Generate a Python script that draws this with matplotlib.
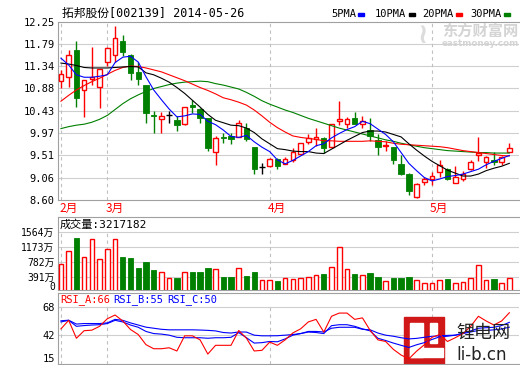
import numpy as np
import matplotlib
matplotlib.use('Agg')
import matplotlib.pyplot as plt
import matplotlib.transforms as mtrans
from matplotlib.patches import Rectangle

# daily bars, 2014-02 .. 2014-05-26
opens = [11.04, 11.11, 11.67, 10.85, 11.08, 10.91, 11.42, 11.57, 11.85, 11.57,
         11.21, 10.95, 10.33, 10.25, 10.34, 10.24, 10.15, 10.55, 10.46, 10.27,
         9.58, 9.88, 9.90, 9.89, 10.07, 9.68, 9.27, 9.29, 9.44, 9.34,
         9.41, 9.54, 9.78, 9.85, 9.87, 9.68, 10.22, 10.15, 10.27, 10.15,
         10.04, 9.83, 9.71, 9.68, 9.34, 9.14, 8.67, 8.97, 9.02, 9.17,
         9.24, 8.95, 9.03, 9.24, 9.51, 9.37, 9.42, 9.38, 9.59]
closes = [11.17, 11.56, 10.68, 11.05, 11.11, 11.27, 11.70, 11.91, 11.63, 11.19,
          11.07, 10.37, 10.31, 10.32, 10.34, 10.14, 10.50, 10.50, 10.27, 9.66,
          9.87, 9.86, 9.85, 10.17, 9.85, 9.24, 9.27, 9.44, 9.29, 9.44,
          9.59, 9.76, 9.87, 9.88, 9.67, 10.15, 10.25, 10.26, 10.16, 10.22,
          9.90, 9.69, 9.72, 9.42, 9.14, 8.78, 8.93, 9.02, 9.10, 9.31,
          9.02, 9.07, 9.14, 9.37, 9.56, 9.48, 9.38, 9.47, 9.66]
highs = [11.26, 11.67, 11.85, 11.06, 11.72, 11.28, 11.72, 12.16, 11.98, 11.58,
         11.42, 10.96, 10.41, 10.40, 10.41, 10.31, 10.51, 10.65, 10.48, 10.28,
         9.90, 9.97, 9.97, 10.24, 10.17, 9.69, 9.36, 9.45, 9.45, 9.48,
         9.66, 9.77, 9.95, 10.07, 9.88, 10.16, 10.63, 10.29, 10.40, 10.31,
         10.27, 9.95, 9.80, 9.69, 9.53, 9.15, 8.95, 9.08, 9.18, 9.42,
         9.25, 9.29, 9.19, 9.41, 9.89, 9.50, 9.58, 9.49, 9.76]
lows = [10.90, 10.92, 10.51, 10.29, 10.95, 10.48, 11.34, 11.42, 11.55, 11.06,
        10.95, 10.18, 9.98, 9.98, 10.18, 10.02, 10.14, 10.38, 10.17, 9.61,
        9.32, 9.76, 9.74, 9.88, 9.81, 9.13, 9.13, 9.28, 9.24, 9.33,
        9.37, 9.53, 9.75, 9.71, 9.57, 9.67, 10.14, 10.07, 10.15, 10.07,
        9.80, 9.53, 9.61, 9.34, 9.12, 8.71, 8.64, 8.90, 8.91, 9.08,
        9.00, 8.94, 8.98, 9.22, 9.39, 9.25, 9.32, 9.32, 9.58]

ma5 = [11.50, 11.36, 11.16, 11.11, 11.11, 11.13, 11.16, 11.41, 11.52, 11.54,
       11.42, 11.12, 10.85, 10.65, 10.46, 10.30, 10.32, 10.36, 10.35, 10.21,
       10.14, 10.03, 9.90, 9.88, 9.92, 9.79, 9.68, 9.59, 9.42, 9.34,
       9.41, 9.50, 9.59, 9.71, 9.75, 9.87, 9.96, 10.04, 10.10, 10.21,
       10.16, 10.05, 9.94, 9.79, 9.57, 9.35, 9.20, 9.06, 8.99, 9.03,
       9.08, 9.10, 9.13, 9.18, 9.23, 9.32, 9.39, 9.45, 9.51]
ma10 = [11.40, 11.38, 11.35, 11.31, 11.30, 11.30, 11.30, 11.31, 11.32, 11.33,
        11.32, 11.20, 11.16, 11.09, 11.01, 10.90, 10.78, 10.64, 10.50, 10.35,
        10.23, 10.18, 10.13, 10.12, 10.07, 9.98, 9.85, 9.75, 9.65, 9.63,
        9.60, 9.59, 9.59, 9.56, 9.55, 9.64, 9.73, 9.82, 9.90, 9.98,
        10.01, 10.01, 9.99, 9.94, 9.89, 9.75, 9.62, 9.50, 9.39, 9.30,
        9.21, 9.15, 9.09, 9.09, 9.13, 9.20, 9.25, 9.29, 9.35]
ma20 = [10.62, 10.74, 10.85, 10.94, 11.02, 11.09, 11.17, 11.25, 11.31, 11.34,
        11.33, 11.30, 11.26, 11.22, 11.16, 11.10, 11.04, 10.97, 10.90, 10.84,
        10.77, 10.69, 10.65, 10.60, 10.54, 10.44, 10.32, 10.19, 10.08, 9.99,
        9.91, 9.88, 9.86, 9.84, 9.81, 9.81, 9.80, 9.80, 9.80, 9.80,
        9.81, 9.80, 9.79, 9.76, 9.74, 9.73, 9.72, 9.71, 9.70, 9.69,
        9.67, 9.64, 9.61, 9.59, 9.57, 9.55, 9.53, 9.51, 9.50]
ma30 = [10.06, 10.10, 10.13, 10.15, 10.19, 10.25, 10.33, 10.45, 10.57, 10.67,
        10.75, 10.82, 10.88, 10.92, 10.96, 10.99, 11.01, 11.02, 11.03, 11.02,
        10.98, 10.95, 10.91, 10.87, 10.80, 10.72, 10.63, 10.56, 10.50, 10.44,
        10.39, 10.33, 10.27, 10.22, 10.17, 10.12, 10.07, 10.03, 9.99, 9.95,
        9.91, 9.87, 9.83, 9.80, 9.76, 9.73, 9.70, 9.67, 9.65, 9.63,
        9.61, 9.60, 9.59, 9.58, 9.57, 9.57, 9.56, 9.56, 9.56]

# volume in 万
vols = [714, 1061, 1408, 905, 1374, 852, 1113, 1374, 905, 887,
        626, 766, 566, 505, 365, 365, 505, 505, 505, 626,
        592, 391, 391, 609, 417, 505, 297, 297, 271, 349,
        323, 349, 375, 435, 461, 644, 1157, 583, 461, 427,
        487, 383, 271, 357, 357, 383, 297, 219, 219, 297,
        331, 219, 245, 357, 688, 297, 331, 219, 357]

rsi_a = [47.9, 55.9, 39.1, 46.2, 46.7, 50.3, 57.4, 60.9, 55.3, 47.3,
         42.6, 33.1, 29.3, 29.3, 30.2, 27.2, 41.4, 41.4, 37.6, 24.3,
         32.5, 32.5, 32.5, 46.4, 39.1, 27.2, 27.8, 35.5, 32.5, 37.6,
         44.1, 47.9, 54.4, 56.8, 44.9, 59.7, 62.7, 62.7, 56.8, 58.2,
         46.4, 37.6, 36.1, 28.7, 23.4, 19.8, 27.0, 33.0, 40.0, 42.6,
         36.1, 39.6, 43.5, 50.3, 59.7, 55.3, 51.5, 55.3, 63.0]
rsi_b = [54.4, 55.9, 50.3, 51.0, 51.5, 51.8, 52.9, 55.9, 54.4, 51.5,
         49.4, 45.5, 43.5, 43.0, 42.0, 40.0, 39.6, 39.6, 39.6, 39.1,
         39.6, 39.6, 40.0, 44.4, 39.6, 34.6, 35.0, 36.1, 35.8, 38.5,
         42.0, 43.5, 44.9, 44.5, 43.5, 50.9, 51.8, 51.8, 50.3, 47.9,
         46.0, 39.1, 37.0, 34.6, 32.5, 30.5, 33.0, 35.0, 38.0, 40.5,
         41.0, 42.0, 44.0, 46.0, 48.5, 49.0, 49.4, 51.0, 54.0]
rsi_c = [55.5, 56.0, 52.4, 52.9, 52.9, 52.9, 53.5, 56.8, 55.9, 53.5,
         51.5, 49.5, 48.5, 47.5, 47.0, 47.0, 47.0, 47.0, 46.8, 46.5,
         46.0, 44.5, 44.0, 45.0, 44.9, 42.0, 41.4, 41.4, 41.5, 42.0,
         42.6, 43.5, 45.5, 45.5, 45.0, 48.5, 49.4, 49.4, 49.4, 47.5,
         47.0, 44.0, 42.0, 41.0, 39.6, 38.5, 39.0, 40.0, 41.0, 41.4,
         41.8, 42.0, 43.5, 45.0, 46.4, 46.4, 47.0, 47.8, 49.5]

price_labels = ['8.60', '9.06', '9.51', '9.97', '10.43', '10.88', '11.34', '11.79', '12.25']
vol_labels = ['391万', '782万', '1173万', '1564万']
rsi_labels = ['42', '68']
month_labels = ['2月', '3月', '4月', '5月']
month_start = [0, 6, 27, 48]

W, H = 520., 365.
def fx(px): return px / W
def fy(py): return 1 - py / H

mono = ['DejaVu Sans Mono', 'Noto Sans CJK SC']
cjk = ['Noto Sans CJK SC', 'DejaVu Sans']
red, green, blue = '#ff0000', '#008000', '#0000ff'
grid_c, border_c, dash_c = '#cfcfcf', '#a0a0a0', '#c0c0c0'

fig = plt.figure(figsize=(5.2, 3.65), dpi=100)
fig.patch.set_facecolor('white')
x = np.arange(len(closes))
o, c, h, l = map(np.array, (opens, closes, highs, lows))
xl = (-0.38, 59.25)

def style(ax):
    ax.set_xlim(*xl)
    ax.set_xticks([])
    ax.spines['right'].set_visible(False)
    for s in ['left', 'top', 'bottom']:
        ax.spines[s].set_color(border_c)
        ax.spines[s].set_linewidth(0.8)
    ax.tick_params(axis='y', length=0, pad=2.5, labelsize=7.5)

# ---- price panel
ax1 = fig.add_axes([fx(58), fy(200), fx(519) - fx(58), fy(21.5) - fy(200)])
style(ax1)
ax1.set_ylim(8.60, 12.25)
pt = [float(s) for s in price_labels]
ax1.set_yticks(pt)
ax1.set_yticklabels(price_labels, family=mono)
for v in pt[1:-1]:
    ax1.axhline(v, color=grid_c, lw=0.8, zorder=0)
ax1.vlines(month_start, 8.60, 12.25, color=dash_c, lw=0.8, linestyles=(0, (3, 3)), zorder=0)

up = c > o
dn = c < o
flat = c == o
top = np.maximum(o, c)
bot = np.minimum(o, c)
wick_col = np.where(up, red, np.where(dn, green, 'black'))
ax1.vlines(x, top, h, colors=wick_col, lw=1, zorder=2)
ax1.vlines(x, l, bot, colors=wick_col, lw=1, zorder=2)
ax1.bar(x[up], (c - o)[up], 0.6, bottom=o[up], facecolor='white', edgecolor=red, lw=1, zorder=3)
ax1.bar(x[dn], (o - c)[dn], 0.7, bottom=c[dn], color=green, edgecolor=green, lw=0.6, zorder=3)
ax1.hlines(c[flat], x[flat] - 0.35, x[flat] + 0.35, colors='black', lw=1, zorder=3)

ax1.plot(x, ma30, color=green, lw=0.8, zorder=4)
ax1.plot(x, ma20, color=red, lw=0.8, zorder=4)
ax1.plot(x, ma10, color='black', lw=0.8, zorder=4)
ax1.plot(x, ma5, color=blue, lw=0.8, zorder=4)

fig.text(fx(62), fy(13), '拓邦股份[002139] 2014-05-26', family=mono, fontsize=8.5, va='center')
leg = [('5PMA', blue, 331), ('10PMA', 'black', 375), ('20PMA', red, 422), ('30PMA', green, 470)]
for name, col, px in leg:
    fig.text(fx(px), fy(14), name, family=mono, fontsize=7.5, va='center')
    nx = px + 6.1 * len(name) + 3
    fig.patches.append(Rectangle((fx(nx), fy(15.5)), fx(6), 3 / H, color=col, transform=fig.transFigure))

# watermark
fig.text(fx(442), fy(31), '东方财富网', family=cjk, fontsize=11, fontweight='bold', color='#d4d4d4', va='center')
fig.text(fx(442), fy(43), 'eastmoney.com', family='DejaVu Sans', fontsize=6.3, fontweight='bold', color='#d4d4d4', va='center')
fig.text(fx(418), fy(35), '≀', family='DejaVu Sans', fontsize=20, fontweight='bold', color='#dcdcdc', va='center')

trans = mtrans.blended_transform_factory(ax1.transData, fig.transFigure)
for lab, st in zip(month_labels, month_start):
    ax1.text(st - 0.25, fy(208.5), lab, transform=trans, color=red, family=cjk, fontsize=8.5,
             ha='left', va='center', clip_on=False)

# ---- volume panel
ax2 = fig.add_axes([fx(58), fy(290), fx(519) - fx(58), fy(217) - fy(290)])
style(ax2)
ax2.tick_params(axis='y', labelsize=7)
ax2.set_ylim(44, 1947)
vt = [float(s[:-1]) for s in vol_labels]
ax2.set_yticks(vt)
ax2.set_yticklabels(vol_labels, family=mono)
for v in vt:
    ax2.axhline(v, color=grid_c, lw=0.8, zorder=0)
fig.text(fx(55), fy(287.5), '0', family=mono, fontsize=7, ha='right', va='center')
ax2.vlines(month_start, 44, vt[-1], color=dash_c, lw=0.8, linestyles=(0, (3, 3)), zorder=0)
vv = np.array(vols)
vup = c >= o
ax2.bar(x[vup], vv[vup], 0.6, facecolor='white', edgecolor=red, lw=1, zorder=3)
ax2.bar(x[~vup], vv[~vup], 0.7, color=green, edgecolor=green, lw=0.6, zorder=3)
fig.text(fx(60), fy(225), '成交量:3217182', family=mono, fontsize=8, va='center')

# ---- rsi panel
ax3 = fig.add_axes([fx(58), fy(364), fx(519) - fx(58), fy(293) - fy(364)])
style(ax3)
ax3.set_ylim(15, 81.5)
rt = [float(s) for s in rsi_labels]
ax3.set_yticks(rt)
ax3.set_yticklabels(rsi_labels, family=mono)
for v in rt:
    ax3.axhline(v, color=grid_c, lw=0.8, zorder=0)
fig.text(fx(55), fy(358.5), '15', family=mono, fontsize=7.5, ha='right', va='center')
ax3.vlines(month_start, 15, rt[-1], color=dash_c, lw=0.8, linestyles=(0, (3, 3)), zorder=0)
ax3.plot(x, rsi_c, color=blue, lw=0.8, zorder=4)
ax3.plot(x, rsi_b, color=blue, lw=0.8, zorder=4)
ax3.plot(x, rsi_a, color=red, lw=0.8, zorder=4)
fig.text(fx(60), fy(300), 'RSI_A:66', family=mono, fontsize=7.5, color=red, va='center')
fig.text(fx(113), fy(300), 'RSI_B:55', family=mono, fontsize=7.5, color=blue, va='center')
fig.text(fx(167), fy(300), 'RSI_C:50', family=mono, fontsize=7.5, color=blue, va='center')

# li-b.cn logo
logo = [((404, 317), 40, 48, '#d01818'), ((410, 323), 13, 34, 'white'),
        ((410, 348), 33, 9, 'white'), ((430, 323), 7, 20, 'white')]
for (px, py), w, hh, col in logo:
    ax3.add_patch(Rectangle((fx(px), fy(py + hh)), w / W, hh / H, color=col,
                            transform=fig.transFigure, clip_on=False, zorder=1))
fig.text(fx(456), fy(333), '锂电网', family=cjk, fontsize=13, color='#222222', va='center')
fig.text(fx(456), fy(355), 'li-b.cn', family='DejaVu Sans', fontsize=12, color='#222222', va='center')

fig.savefig('out.png', dpi=100)
